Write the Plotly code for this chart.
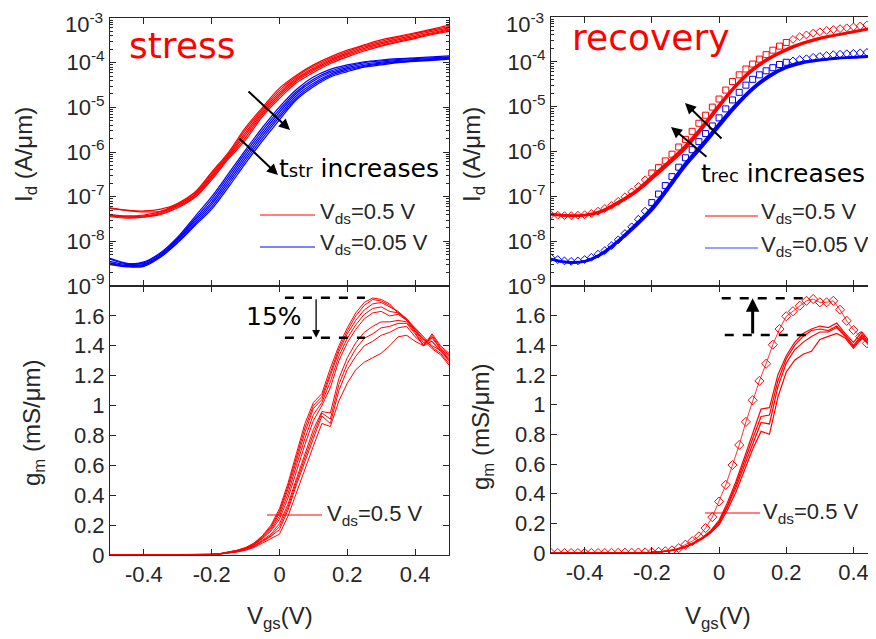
import plotly.graph_objects as go

# ================= DATA =================
# Vgs grids (V)
vgs_id = [-0.5, -0.45, -0.4, -0.35, -0.3, -0.25, -0.2, -0.15, -0.1, -0.05, 0.0,
          0.05, 0.1, 0.15, 0.2, 0.25, 0.3, 0.35, 0.4, 0.45, 0.5]
vgs_gm = [-0.5, -0.475, -0.45, -0.425, -0.4, -0.375, -0.35, -0.325, -0.3, -0.275, -0.25,
          -0.225, -0.2, -0.175, -0.15, -0.125, -0.1, -0.075, -0.05, -0.025, 0.0,
          0.025, 0.05, 0.075, 0.1, 0.125, 0.15, 0.175, 0.2, 0.225, 0.25,
          0.275, 0.3, 0.325, 0.35, 0.375, 0.4, 0.425, 0.45, 0.475, 0.5]
vgs_mk = [-0.5, -0.48, -0.46, -0.44, -0.42, -0.4, -0.38, -0.36, -0.34, -0.32, -0.3,
          -0.28, -0.26, -0.24, -0.22, -0.2, -0.18, -0.16, -0.14, -0.12, -0.1,
          -0.08, -0.06, -0.04, -0.02, 0.0, 0.02, 0.04, 0.06, 0.08, 0.1,
          0.12, 0.14, 0.16, 0.18, 0.2, 0.22, 0.24, 0.26, 0.28, 0.3,
          0.32, 0.34, 0.36, 0.38, 0.4, 0.42, 0.44, 0.46]

# Stress: log10(Id) [A/um], Vds = 0.5 V (fresh -> most stressed)
stress_id_red_log = [
    [-7.40, -7.43, -7.41, -7.33, -7.15, -6.90, -6.45, -6.00, -5.45, -5.00, -4.57, -4.28, -4.05, -3.87, -3.72, -3.60, -3.49, -3.41, -3.33, -3.25, -3.16],
    [-7.25, -7.30, -7.32, -7.28, -7.16, -6.92, -6.48, -6.03, -5.50, -5.04, -4.62, -4.31, -4.08, -3.90, -3.75, -3.62, -3.52, -3.43, -3.35, -3.27, -3.19],
    [-7.42, -7.45, -7.43, -7.36, -7.18, -6.95, -6.52, -6.06, -5.56, -5.08, -4.67, -4.35, -4.12, -3.93, -3.78, -3.65, -3.55, -3.46, -3.38, -3.30, -3.22],
    [-7.26, -7.31, -7.34, -7.33, -7.20, -6.97, -6.55, -6.09, -5.61, -5.12, -4.71, -4.38, -4.15, -3.96, -3.81, -3.68, -3.58, -3.49, -3.41, -3.33, -3.25],
    [-7.43, -7.46, -7.45, -7.38, -7.22, -7.00, -6.58, -6.12, -5.67, -5.16, -4.75, -4.41, -4.18, -3.99, -3.84, -3.71, -3.61, -3.52, -3.44, -3.35, -3.27],
    [-7.45, -7.48, -7.46, -7.40, -7.25, -7.02, -6.62, -6.15, -5.73, -5.20, -4.80, -4.45, -4.22, -4.02, -3.87, -3.74, -3.63, -3.54, -3.46, -3.37, -3.30],
]
# Stress: log10(Id), Vds = 0.05 V
stress_id_blue_log = [
    [-8.40, -8.50, -8.46, -8.25, -7.90, -7.45, -7.00, -6.48, -5.95, -5.45, -4.99, -4.60, -4.32, -4.15, -4.05, -3.98, -3.94, -3.91, -3.89, -3.87, -3.85],
    [-8.45, -8.52, -8.48, -8.27, -7.93, -7.50, -7.06, -6.54, -6.01, -5.51, -5.05, -4.65, -4.37, -4.19, -4.08, -4.00, -3.96, -3.93, -3.91, -3.89, -3.87],
    [-8.38, -8.49, -8.50, -8.30, -7.96, -7.54, -7.12, -6.60, -6.07, -5.57, -5.11, -4.69, -4.41, -4.22, -4.11, -4.03, -3.99, -3.95, -3.93, -3.91, -3.88],
    [-8.48, -8.54, -8.52, -8.31, -7.98, -7.58, -7.17, -6.66, -6.13, -5.63, -5.17, -4.74, -4.46, -4.26, -4.14, -4.06, -4.01, -3.97, -3.95, -3.92, -3.90],
    [-8.50, -8.56, -8.54, -8.33, -8.01, -7.62, -7.23, -6.72, -6.19, -5.69, -5.22, -4.79, -4.50, -4.29, -4.17, -4.08, -4.03, -3.99, -3.96, -3.94, -3.91],
    [-8.52, -8.57, -8.56, -8.35, -8.03, -7.65, -7.28, -6.78, -6.25, -5.75, -5.28, -4.83, -4.54, -4.32, -4.20, -4.10, -4.05, -4.00, -3.97, -3.95, -3.92],
]
# Stress: gm [mS/um], Vds = 0.5 V
stress_gm = [
    [0]*11 + [0.002, 0.005, 0.010, 0.020, 0.032, 0.050, 0.080, 0.13, 0.20, 0.31,
              0.48, 0.68, 0.88, 1.02, 1.08, 1.25, 1.40, 1.52, 1.62, 1.69,
              1.72, 1.71, 1.68, 1.62, 1.57, 1.50, 1.44, 1.38, 1.34, 1.27],
    [0]*11 + [0.002, 0.005, 0.0095, 0.019, 0.031, 0.048, 0.077, 0.125, 0.19, 0.295,
              0.46, 0.655, 0.85, 1.00, 1.06, 1.22, 1.38, 1.50, 1.60, 1.67,
              1.71, 1.70, 1.67, 1.62, 1.58, 1.51, 1.45, 1.39, 1.35, 1.28],
    [0]*11 + [0.002, 0.004, 0.009, 0.018, 0.030, 0.046, 0.074, 0.12, 0.18, 0.28,
              0.44, 0.63, 0.82, 0.98, 1.04, 1.20, 1.36, 1.48, 1.57, 1.64,
              1.68, 1.69, 1.66, 1.63, 1.58, 1.52, 1.46, 1.40, 1.37, 1.30],
    [0]*11 + [0.002, 0.004, 0.0085, 0.017, 0.028, 0.044, 0.071, 0.115, 0.17, 0.26,
              0.41, 0.60, 0.78, 0.94, 1.02, 1.16, 1.33, 1.45, 1.54, 1.61,
              1.65, 1.66, 1.63, 1.62, 1.58, 1.51, 1.44, 1.43, 1.37, 1.31],
    [0]*11 + [0.002, 0.004, 0.008, 0.016, 0.027, 0.042, 0.068, 0.11, 0.16, 0.24,
              0.38, 0.56, 0.74, 0.90, 1.00, 1.12, 1.30, 1.42, 1.51, 1.58,
              1.62, 1.63, 1.60, 1.61, 1.57, 1.50, 1.42, 1.45, 1.38, 1.33],
    [0]*11 + [0.001, 0.004, 0.007, 0.015, 0.024, 0.038, 0.062, 0.10, 0.14, 0.21,
              0.34, 0.51, 0.68, 0.84, 0.96, 0.95, 1.18, 1.32, 1.42, 1.49,
              1.53, 1.56, 1.56, 1.57, 1.56, 1.49, 1.40, 1.48, 1.40, 1.35],
    [0]*11 + [0.001, 0.0035, 0.007, 0.014, 0.023, 0.036, 0.059, 0.095, 0.13, 0.19,
              0.32, 0.49, 0.655, 0.81, 0.95, 0.91, 1.14, 1.28, 1.38, 1.45,
              1.48, 1.52, 1.53, 1.55, 1.55, 1.48, 1.40, 1.47, 1.39, 1.34],
    [0]*11 + [0.001, 0.003, 0.007, 0.013, 0.022, 0.035, 0.056, 0.09, 0.125, 0.17,
              0.30, 0.47, 0.63, 0.78, 0.93, 0.88, 1.10, 1.24, 1.33, 1.40,
              1.43, 1.47, 1.49, 1.52, 1.53, 1.46, 1.41, 1.46, 1.38, 1.32],
    [0]*11 + [0.001, 0.003, 0.006, 0.012, 0.020, 0.032, 0.050, 0.08, 0.11, 0.14,
              0.26, 0.42, 0.58, 0.73, 0.88, 0.86, 1.03, 1.15, 1.24, 1.29,
              1.32, 1.35, 1.40, 1.46, 1.47, 1.43, 1.40, 1.43, 1.36, 1.30],
]

# Recovery: fresh reference (markers), log10(Id)
fresh_id_red_log = [-7.41, -7.42, -7.43, -7.43, -7.42, -7.41, -7.38, -7.33, -7.27, -7.20, -7.11,
                    -7.01, -6.90, -6.78, -6.63, -6.48, -6.36, -6.21, -6.06, -5.90, -5.73,
                    -5.55, -5.37, -5.19, -5.01, -4.83, -4.63, -4.44, -4.29, -4.16, -4.05,
                    -3.94, -3.84, -3.74, -3.65, -3.57, -3.50, -3.44, -3.40, -3.36, -3.33,
                    -3.30, -3.28, -3.26, -3.24, -3.22, -3.20, -3.18, -3.16]
fresh_id_blue_log = [-8.37, -8.41, -8.44, -8.45, -8.44, -8.41, -8.36, -8.29, -8.21, -8.10, -7.97,
                     -7.83, -7.68, -7.51, -7.33, -7.14, -6.95, -6.76, -6.56, -6.35, -6.14,
                     -5.96, -5.78, -5.60, -5.43, -5.25, -5.05, -4.85, -4.68, -4.52, -4.39,
                     -4.29, -4.20, -4.13, -4.06, -4.01, -3.98, -3.95, -3.93, -3.90, -3.88,
                     -3.86, -3.84, -3.83, -3.82, -3.81, -3.80, -3.79, -3.78]
fresh_gm = [0.0, 0.0, 0.0, 0.0, 0.0, 0.0, 0.0, 0.0, 0.0, 0.001, 0.001,
            0.002, 0.002, 0.003, 0.004, 0.005, 0.008, 0.012, 0.018, 0.033, 0.056,
            0.080, 0.112, 0.168, 0.242, 0.347, 0.459, 0.593, 0.728, 0.884, 1.03,
            1.16, 1.276, 1.404, 1.51, 1.596, 1.63, 1.667, 1.70, 1.712, 1.69,
            1.69, 1.70, 1.64, 1.565, 1.504, 1.46, 1.414, 1.347]

# Recovery: recovered curves (lines), log10(Id)
recov_id_red_log = [
    [-7.39, -7.42, -7.41, -7.32, -7.12, -6.88, -6.55, -6.22, -5.86, -5.43, -4.95, -4.51, -4.15, -3.90, -3.71, -3.57, -3.46, -3.39, -3.32, -3.25, -3.20],
    [-7.40, -7.43, -7.42, -7.33, -7.14, -6.90, -6.58, -6.25, -5.90, -5.46, -4.98, -4.53, -4.17, -3.92, -3.73, -3.58, -3.47, -3.40, -3.33, -3.26, -3.21],
    [-7.41, -7.44, -7.43, -7.35, -7.16, -6.93, -6.62, -6.29, -5.94, -5.50, -5.02, -4.56, -4.20, -3.94, -3.75, -3.60, -3.49, -3.41, -3.34, -3.27, -3.22],
]
recov_id_blue_log = [
    [-8.39, -8.46, -8.44, -8.27, -7.98, -7.63, -7.24, -6.76, -6.25, -5.82, -5.37, -4.94, -4.57, -4.29, -4.10, -4.00, -3.95, -3.91, -3.89, -3.87, -3.86],
    [-8.40, -8.47, -8.45, -8.28, -8.00, -7.66, -7.28, -6.80, -6.29, -5.86, -5.41, -4.97, -4.60, -4.31, -4.12, -4.01, -3.96, -3.92, -3.90, -3.88, -3.87],
    [-8.41, -8.48, -8.46, -8.30, -8.02, -7.69, -7.32, -6.84, -6.33, -5.90, -5.45, -5.01, -4.63, -4.34, -4.14, -4.03, -3.97, -3.93, -3.91, -3.89, -3.88],
]
recov_gm = [
    [0]*11 + [0.002, 0.005, 0.009, 0.015, 0.027, 0.045, 0.070, 0.105, 0.15, 0.22,
              0.34, 0.48, 0.64, 0.80, 0.97, 0.98, 1.20, 1.33, 1.42, 1.48,
              1.51, 1.53, 1.52, 1.55, 1.48, 1.42, 1.49, 1.42, 1.36, 1.30],
    [0]*11 + [0.002, 0.004, 0.008, 0.014, 0.025, 0.043, 0.068, 0.10, 0.145, 0.21,
              0.32, 0.46, 0.62, 0.77, 0.92, 0.93, 1.16, 1.31, 1.40, 1.46,
              1.50, 1.51, 1.50, 1.53, 1.47, 1.40, 1.47, 1.41, 1.35, 1.29],
    [0]*11 + [0.002, 0.004, 0.008, 0.013, 0.024, 0.041, 0.065, 0.10, 0.14, 0.20,
              0.31, 0.44, 0.59, 0.74, 0.88, 0.87, 1.12, 1.28, 1.37, 1.42,
              1.46, 1.49, 1.49, 1.52, 1.46, 1.39, 1.46, 1.40, 1.34, 1.28],
    [0]*11 + [0.001, 0.004, 0.007, 0.012, 0.022, 0.040, 0.063, 0.095, 0.135, 0.19,
              0.29, 0.41, 0.55, 0.70, 0.82, 0.80, 1.05, 1.22, 1.30, 1.34,
              1.36, 1.44, 1.46, 1.48, 1.45, 1.38, 1.45, 1.40, 1.33, 1.28],
]

# Tick labels
x_tickvals = [-0.4, -0.2, 0, 0.2, 0.4]
x_ticktext = ['-0.4', '-0.2', '0', '0.2', '0.4']
gm_tickvals = [0, 0.2, 0.4, 0.6, 0.8, 1.0, 1.2, 1.4, 1.6]
gm_ticktext = ['0', '0.2', '0.4', '0.6', '0.8', '1', '1.2', '1.4', '1.6']
id_exponents = [-9, -8, -7, -6, -5, -4, -3]

# ================= FIGURE =================
# The page body has an 8 px margin, so the figure is sized to fill the rest of the window
OFF = 8
W, H = 876 - OFF, 639 - OFF
RED, BLUE = '#FF0000', '#0000FF'
AX = '#262626'
TICKFONT = dict(family='Liberation Sans, Arial', size=22, color=AX)


def px(x):
    return (x - OFF) / W


def py(y):
    return 1 - (y - OFF) / H


fig = go.Figure()

# --- top-left: stress Id ---
for curve in stress_id_red_log:
    fig.add_trace(go.Scatter(x=vgs_id, y=[10 ** v for v in curve], xaxis='x', yaxis='y', mode='lines',
                             line=dict(color=RED, width=1.2, shape='spline'), showlegend=False))
for curve in stress_id_blue_log:
    fig.add_trace(go.Scatter(x=vgs_id, y=[10 ** v for v in curve], xaxis='x', yaxis='y', mode='lines',
                             line=dict(color=BLUE, width=1.2, shape='spline'), showlegend=False))
# --- bottom-left: stress gm ---
for curve in stress_gm:
    fig.add_trace(go.Scatter(x=vgs_gm, y=curve, xaxis='x2', yaxis='y2', mode='lines',
                             line=dict(color=RED, width=1), showlegend=False))

# --- top-right: recovery Id ---
for curve in recov_id_red_log:
    fig.add_trace(go.Scatter(x=vgs_id, y=[10 ** v for v in curve], xaxis='x3', yaxis='y3', mode='lines',
                             line=dict(color=RED, width=2, shape='spline'), showlegend=False))
for curve in recov_id_blue_log:
    fig.add_trace(go.Scatter(x=vgs_id, y=[10 ** v for v in curve], xaxis='x3', yaxis='y3', mode='lines',
                             line=dict(color=BLUE, width=2, shape='spline'), showlegend=False))
sym = ['square-open' if -0.2 <= v <= 0.2 else 'diamond-open' for v in vgs_mk]
fig.add_trace(go.Scatter(x=vgs_mk, y=[10 ** v for v in fresh_id_red_log], xaxis='x3', yaxis='y3', mode='markers',
                         marker=dict(symbol=sym, size=6, color=RED, line=dict(width=1, color=RED)), showlegend=False))
fig.add_trace(go.Scatter(x=vgs_mk, y=[10 ** v for v in fresh_id_blue_log], xaxis='x3', yaxis='y3', mode='markers',
                         marker=dict(symbol=sym, size=6, color=BLUE, line=dict(width=1, color=BLUE)), showlegend=False))

# --- bottom-right: recovery gm ---
for curve in recov_gm:
    fig.add_trace(go.Scatter(x=vgs_gm, y=curve, xaxis='x4', yaxis='y4', mode='lines',
                             line=dict(color=RED, width=1.2), showlegend=False))
fig.add_trace(go.Scatter(x=vgs_mk, y=fresh_gm, xaxis='x4', yaxis='y4', mode='lines+markers',
                         line=dict(color=RED, width=0.8),
                         marker=dict(symbol='diamond-open', size=7, color=RED, line=dict(width=1, color=RED)),
                         showlegend=False))

# ---------- axes ----------
LX = [px(110), px(449)]
RX = [px(551), 1.0]
TOPY = [py(286), py(18)]
BOTY = [py(555), py(286)]
TOPY_R = [py(286), py(17)]
BOTY_R = [py(553), py(286)]

minor_vals = [k * 10.0 ** e for e in range(-9, -3) for k in range(2, 10)]
# the topmost decade label is drawn as an annotation so that it is not clipped at the page top
id_ticktext = ['' if e == -3 else '10<sup>%d</sup>' % e for e in id_exponents]


def xax(domain, anchor, rng, labels, mirror=True):
    return dict(domain=domain, anchor=anchor, range=rng, showline=True, linecolor=AX, linewidth=1,
                mirror='allticks' if mirror else False, ticks='inside', ticklen=6, tickcolor=AX,
                tickvals=x_tickvals, ticktext=x_ticktext, showticklabels=labels, tickfont=TICKFONT,
                showgrid=False, zeroline=False, automargin=False, ticklabeloverflow='allow')


def logyax(domain, anchor, mirror=True):
    return dict(domain=domain, anchor=anchor, type='log', range=[-9, -3], showline=True, linecolor=AX,
                linewidth=1, mirror='allticks' if mirror else False, ticks='inside', ticklen=6,
                tickcolor=AX, tickvals=[10.0 ** e for e in id_exponents],
                ticktext=id_ticktext, tickfont=TICKFONT,
                minor=dict(tickvals=minor_vals, ticks='inside', ticklen=3, tickcolor=AX, showgrid=False),
                showgrid=False, zeroline=False, automargin=False, ticklabeloverflow='allow')


def gmyax(domain, anchor, mirror=True):
    return dict(domain=domain, anchor=anchor, range=[0, 1.8], showline=True, linecolor=AX, linewidth=1,
                mirror='allticks' if mirror else False, ticks='inside', ticklen=6, tickcolor=AX,
                tickvals=gm_tickvals, ticktext=gm_ticktext, tickfont=TICKFONT,
                showgrid=False, zeroline=False, automargin=False, ticklabeloverflow='allow')


fig.update_layout(
    width=W, height=H, autosize=False,
    margin=dict(l=0, r=0, t=0, b=0, pad=0, autoexpand=False),
    paper_bgcolor='white', plot_bgcolor='white',
    xaxis=xax(LX, 'y', [-0.5, 0.5], False),
    yaxis=logyax(TOPY, 'x'),
    xaxis2=xax(LX, 'y2', [-0.5, 0.5], True),
    yaxis2=gmyax(BOTY, 'x2'),
    xaxis3=xax(RX, 'y3', [-0.5, 0.467], False),
    yaxis3=logyax(TOPY_R, 'x3', mirror=False),
    xaxis4=xax(RX, 'y4', [-0.5, 0.467], True),
    yaxis4=gmyax(BOTY_R, 'x4', mirror=False),
)

# ---------- text annotations ----------
TITLEFONT = dict(family='Liberation Sans, Arial', size=24, color=AX)
DEJ = 'DejaVu Sans'
ann = []
# top decade labels
for x in [104, 545]:
    ann.append(dict(text='10<sup>-3</sup>', x=px(x), y=1.0, xref='paper', yref='paper', showarrow=False,
                    font=TICKFONT, xanchor='right', yanchor='top', borderpad=0))
# axis titles
for (x, y) in [(25, 155), (473, 155)]:
    ann.append(dict(text='I<sub>d</sub> (A/μm)', x=px(x), y=py(y), xref='paper', yref='paper',
                    textangle=-90, showarrow=False, font=TITLEFONT, xanchor='center', yanchor='middle'))
for (x, y) in [(33, 423), (482, 427)]:
    ann.append(dict(text='g<sub>m</sub> (mS/μm)', x=px(x), y=py(y), xref='paper', yref='paper',
                    textangle=-90, showarrow=False, font=TITLEFONT, xanchor='center', yanchor='middle'))
for x in [280, 718]:
    ann.append(dict(text='V<sub>gs</sub>(V)', x=px(x), y=py(617), xref='paper', yref='paper',
                    showarrow=False, font=TITLEFONT, xanchor='center', yanchor='middle'))
# panel titles
ann.append(dict(text='stress', x=px(127), y=py(46), xref='paper', yref='paper', showarrow=False,
                font=dict(family=DEJ, size=36, color=RED), xanchor='left', yanchor='middle'))
ann.append(dict(text='recovery', x=px(570), y=py(37), xref='paper', yref='paper', showarrow=False,
                font=dict(family=DEJ, size=36, color=RED), xanchor='left', yanchor='middle'))
# t increases
ann.append(dict(text="t<span style='font-size:18px'>str</span> increases", x=px(277), y=py(168),
                xref='paper', yref='paper', showarrow=False, font=dict(family=DEJ, size=25, color='black'),
                xanchor='left', yanchor='middle'))
ann.append(dict(text="t<span style='font-size:18px'>rec</span> increases", x=px(699), y=py(173),
                xref='paper', yref='paper', showarrow=False, font=dict(family=DEJ, size=25, color='black'),
                xanchor='left', yanchor='middle'))
ann.append(dict(text='15%', x=px(244), y=py(316), xref='paper', yref='paper', showarrow=False,
                font=dict(family=DEJ, size=25, color='black'), xanchor='left', yanchor='middle'))
# arrows (top panels)
for (hx, hy, axo, ayo) in [(290, 130, -43, -40), (278, 175, -40, -38), (685, 103, 38, 37), (671, 127, 37, 31)]:
    ann.append(dict(text='', x=px(hx), y=py(hy), xref='paper', yref='paper', ax=axo, ay=ayo,
                    showarrow=True, arrowhead=2, arrowsize=1.1, arrowwidth=2, arrowcolor='black'))
# arrows (gm panels)
ann.append(dict(text='', x=0.108, y=1.454, xref='x2', yref='y2', ax=0.108, ay=1.722, axref='x2', ayref='y2',
                showarrow=True, arrowhead=2, arrowsize=1.2, arrowwidth=1.3, arrowcolor='black'))
ann.append(dict(text='', x=0.10, y=1.717, xref='x4', yref='y4', ax=0.10, ay=1.47, axref='x4', ayref='y4',
                showarrow=True, arrowhead=2, arrowsize=0.9, arrowwidth=3, arrowcolor='black'))
# legend texts
LEGFONT = dict(family='Liberation Sans, Arial', size=22, color=AX)
for (x, y, t) in [(318, 213, 'V<sub>ds</sub>=0.5 V'), (318, 244, 'V<sub>ds</sub>=0.05 V'),
                  (325, 515, 'V<sub>ds</sub>=0.5 V'),
                  (759, 213, 'V<sub>ds</sub>=0.5 V'), (759, 246, 'V<sub>ds</sub>=0.05 V'),
                  (761, 513, 'V<sub>ds</sub>=0.5 V')]:
    ann.append(dict(text=t, x=px(x), y=py(y), xref='paper', yref='paper', showarrow=False,
                    font=LEGFONT, xanchor='left', yanchor='middle'))
fig.update_layout(annotations=ann)

# ---------- shapes: legend lines and dashed markers ----------
shapes = []
for (x0, x1, y, c) in [(260, 315, 215, RED), (260, 315, 247, BLUE), (267, 322, 515, RED),
                       (705, 758, 216, RED), (705, 758, 248, '#3344FF'), (705, 760, 513, RED)]:
    shapes.append(dict(type='line', xref='paper', yref='paper', x0=px(x0), x1=px(x1), y0=py(y), y1=py(y),
                       line=dict(color=c, width=1)))
for (x0, x1, y, xr, yr) in [(0.016, 0.252, 1.722, 'x2', 'y2'), (0.016, 0.252, 1.454, 'x2', 'y2'),
                            (0.008, 0.25, 1.717, 'x4', 'y4'), (0.017, 0.26, 1.47, 'x4', 'y4')]:
    shapes.append(dict(type='line', xref=xr, yref=yr, x0=x0, x1=x1, y0=y, y1=y,
                       line=dict(color='black', width=2.5, dash='dash')))
fig.update_layout(shapes=shapes)

fig.write_html('out.html')
